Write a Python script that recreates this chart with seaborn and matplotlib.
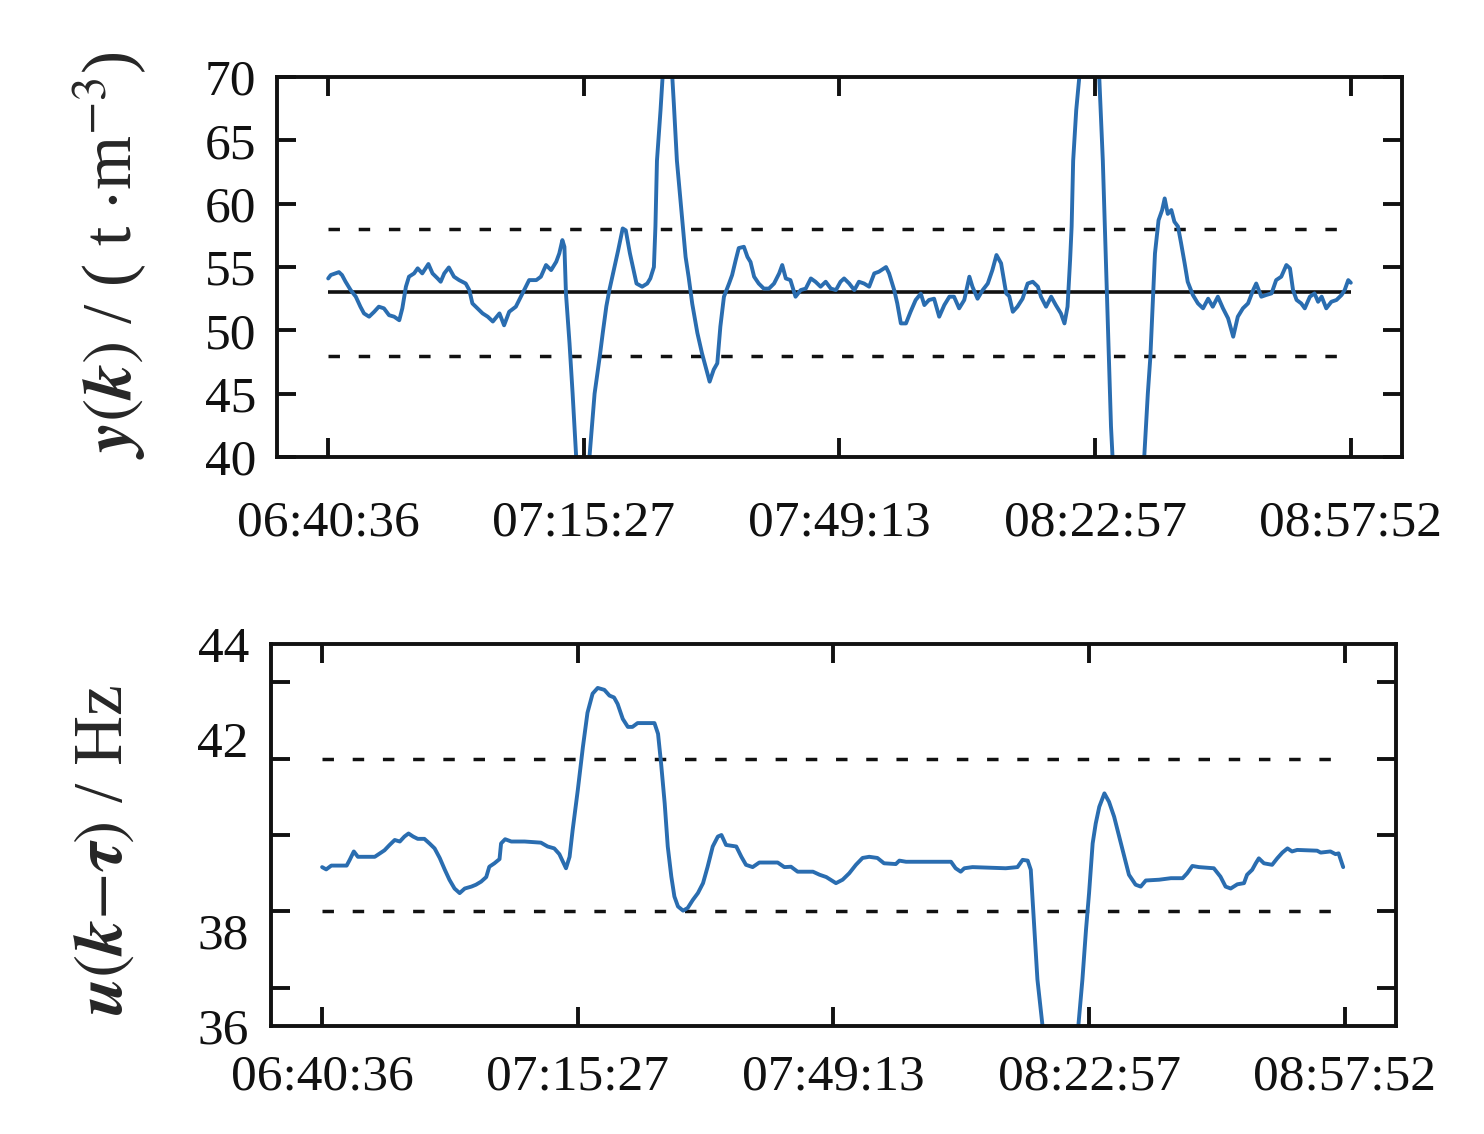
import matplotlib
matplotlib.use('Agg')
import matplotlib.pyplot as plt
import seaborn as sns

# x axis: sample index, labelled with clock times
tick_idx = [0, 500, 1000, 1500, 2000]
times = ['06:40:36', '07:15:27', '07:49:13', '08:22:57', '08:57:52']

# output y(k), t/m^3 (values outside 40-70 are clipped by the axes)
y_idx = [0, 5, 14, 21, 27, 34, 44, 54, 63, 70, 80, 90, 99, 109, 119, 129, 139, 145, 152, 158,
         168, 175, 184, 196, 204, 214, 220, 227, 236, 246, 256, 269, 276, 282, 292, 302, 312, 322, 335, 344,
         354, 367, 380, 393, 407, 416, 426, 436, 446, 452, 458, 462, 465, 472, 478, 485, 497, 511, 521, 531,
         537, 544, 550, 560, 567, 576, 582, 590, 596, 603, 614, 624, 630, 637, 640, 643, 650, 654, 663, 673,
         676, 682, 689, 699, 705, 712, 722, 731, 741, 746, 754, 761, 767, 774, 784, 790, 797, 803, 813, 820,
         826, 833, 842, 852, 862, 872, 882, 888, 895, 904, 914, 924, 934, 944, 953, 963, 973, 983, 993, 1002,
         1009, 1019, 1029, 1038, 1048, 1058, 1068, 1077, 1091, 1097, 1107, 1113, 1120, 1130, 1139, 1149, 1159, 1166, 1175, 1185,
         1195, 1205, 1215, 1224, 1234, 1244, 1254, 1260, 1270, 1280, 1290, 1299, 1307, 1316, 1326, 1332, 1339, 1348, 1358, 1368,
         1378, 1388, 1394, 1404, 1414, 1423, 1433, 1440, 1446, 1451, 1454, 1457, 1463, 1469, 1488, 1508, 1515, 1519, 1523, 1527,
         1531, 1534, 1565, 1596, 1603, 1608, 1613, 1617, 1624, 1631, 1636, 1642, 1649, 1655, 1662, 1668, 1675, 1681, 1691, 1701,
         1711, 1721, 1730, 1740, 1750, 1760, 1770, 1779, 1789, 1799, 1809, 1815, 1825, 1835, 1845, 1854, 1864, 1874, 1881, 1887,
         1894, 1903, 1910, 1920, 1929, 1936, 1943, 1952, 1962, 1972, 1982, 1988, 1995, 2000]
y_val = [54.1, 54.37, 54.5, 54.6, 54.37, 53.84, 53.18, 52.66, 51.87, 51.34, 51.08, 51.47, 51.87, 51.74, 51.2, 51.08, 50.8, 51.74, 53.45, 54.24,
         54.5, 54.9, 54.5, 55.24, 54.5, 54.1, 53.84, 54.5, 54.97, 54.24, 53.97, 53.7, 53.18, 52.13, 51.74, 51.34, 51.08, 50.7, 51.34, 50.4,
         51.47, 51.87, 52.92, 53.97, 53.97, 54.24, 55.16, 54.76, 55.42, 56.08, 57.13, 56.6, 52.92, 48.97, 45.03, 40.0, 33.5, 40.0, 45.0, 47.9,
         49.8, 51.9, 53.2, 55.0, 56.3, 58.05, 57.9, 56.1, 55.0, 53.7, 53.45, 53.7, 54.1, 55.0, 58.2, 63.4, 67.4, 70.0, 74.5, 70.0,
         67.9, 63.4, 60.3, 55.8, 54.2, 52.1, 49.8, 48.2, 46.7, 45.95, 46.9, 47.4, 50.3, 52.66, 53.7, 54.37, 55.55, 56.5, 56.6, 55.8,
         55.4, 54.24, 53.7, 53.3, 53.3, 53.7, 54.5, 55.16, 54.1, 53.97, 52.66, 53.18, 53.3, 54.1, 53.84, 53.45, 53.84, 53.3, 53.18, 53.84,
         54.1, 53.7, 53.18, 53.84, 53.7, 53.45, 54.5, 54.63, 55.0, 54.5, 53.18, 52.13, 50.55, 50.55, 51.47, 52.4, 52.9, 52.0, 52.4, 52.5,
         51.08, 52.0, 52.66, 52.66, 51.74, 52.4, 54.24, 53.45, 52.5, 53.18, 53.7, 54.76, 55.95, 55.3, 52.92, 52.7, 51.47, 51.87, 52.5, 53.7,
         53.84, 53.45, 52.66, 51.87, 52.66, 52.0, 51.34, 50.55, 51.87, 55.55, 58.2, 63.4, 67.4, 70.0, 80.0, 70.0, 63.4, 58.2, 52.92, 47.92,
         42.4, 40.0, 22.0, 40.0, 45.0, 47.92, 52.4, 56.08, 58.7, 59.5, 60.42, 59.2, 59.5, 58.58, 58.2, 56.9, 55.3, 53.84, 52.8, 52.13,
         51.74, 52.5, 51.87, 52.66, 51.74, 50.95, 49.5, 51.08, 51.74, 52.13, 53.18, 53.7, 52.66, 52.8, 52.92, 53.97, 54.24, 55.16, 54.9, 53.18,
         52.4, 52.13, 51.74, 52.66, 52.92, 52.26, 52.66, 51.74, 52.26, 52.4, 52.8, 53.18, 53.97, 53.76]
y_set = 53
y_band = [48, 58]

# input u(k - tau), Hz
u_idx = [0, 8, 18, 48, 54, 62, 70, 103, 113, 122, 132, 142, 152, 161, 169, 178, 187, 200, 210, 220,
         230, 240, 249, 259, 269, 279, 292, 301, 311, 321, 327, 337, 347, 350, 358, 370, 396, 428, 441, 454,
         464, 471, 477, 484, 490, 500, 510, 519, 529, 539, 552, 562, 571, 578, 588, 598, 607, 617, 650, 657,
         663, 670, 676, 683, 689, 696, 706, 715, 725, 735, 745, 754, 764, 774, 781, 790, 810, 820, 829, 842,
         855, 891, 904, 917, 930, 960, 973, 986, 1005, 1018, 1031, 1044, 1057, 1070, 1086, 1099, 1122, 1129, 1142, 1230,
         1239, 1249, 1256, 1272, 1337, 1360, 1370, 1380, 1386, 1393, 1399, 1409, 1444, 1479, 1487, 1494, 1500, 1507, 1513, 1520,
         1530, 1539, 1549, 1559, 1569, 1578, 1591, 1601, 1611, 1637, 1660, 1683, 1692, 1702, 1715, 1744, 1757, 1767, 1777, 1790,
         1803, 1809, 1819, 1826, 1832, 1842, 1858, 1868, 1878, 1888, 1897, 1907, 1946, 1953, 1972, 1982, 1988, 1997]
u_val = [39.16, 39.1, 39.2, 39.2, 39.35, 39.57, 39.43, 39.43, 39.52, 39.6, 39.74, 39.87, 39.83, 39.96, 40.04, 39.96, 39.9, 39.9, 39.78, 39.65,
         39.4, 39.09, 38.83, 38.6, 38.48, 38.6, 38.65, 38.7, 38.78, 38.9, 39.17, 39.26, 39.37, 39.78, 39.89, 39.83, 39.83, 39.8, 39.7, 39.65,
         39.5, 39.3, 39.13, 39.43, 40.13, 41.17, 42.3, 43.2, 43.7, 43.85, 43.8, 43.65, 43.6, 43.43, 43.04, 42.83, 42.83, 42.93, 42.93, 42.65,
         41.87, 40.83, 39.7, 38.91, 38.39, 38.13, 38.02, 38.09, 38.3, 38.48, 38.74, 39.17, 39.7, 39.96, 40.0, 39.74, 39.7, 39.43, 39.22, 39.16,
         39.28, 39.28, 39.16, 39.17, 39.04, 39.04, 38.96, 38.9, 38.74, 38.83, 39.0, 39.22, 39.4, 39.43, 39.4, 39.26, 39.24, 39.33, 39.3, 39.3,
         39.13, 39.04, 39.13, 39.16, 39.13, 39.16, 39.35, 39.33, 39.09, 37.52, 36.22, 35.0, 30.0, 35.0, 36.22, 37.52, 38.48, 39.78, 40.3, 40.74,
         41.09, 40.87, 40.48, 39.96, 39.43, 38.96, 38.7, 38.65, 38.81, 38.83, 38.87, 38.87, 39.0, 39.19, 39.16, 39.13, 38.91, 38.65, 38.6, 38.71,
         38.74, 38.96, 39.09, 39.26, 39.39, 39.26, 39.22, 39.39, 39.54, 39.65, 39.57, 39.61, 39.59, 39.54, 39.57, 39.5, 39.52, 39.16]
u_band = [38, 42]
u_ticks = [36, 38, 40, 42, 44]
u_label_pos = [35, 37.5, 40, 42.5, 45]
u_labels = ['36', '38', '40', '42', '44']

line_color = '#2a6db0'
ink = '#111111'

sns.set_theme(style='ticks')
plt.rcParams['font.family'] = ['Liberation Serif', 'DejaVu Serif']
plt.rcParams['mathtext.fontset'] = 'stix'

fig = plt.figure(figsize=(14.84, 11.34), dpi=100)
ax1 = fig.add_axes([0.1867, 0.597, 0.758, 0.335])
ax2 = fig.add_axes([0.1826, 0.0952, 0.758, 0.3369])


def style_axes(ax, xpad):
    for s in ax.spines.values():
        s.set_linewidth(2.8)
        s.set_color(ink)
    ax.tick_params(which='both', direction='in', length=14, width=2.8,
                   top=True, right=True, labelsize=37, colors=ink)
    ax.tick_params(axis='x', pad=xpad)
    ax.set_xlim(-100, 2100)
    ax.set_xticks(tick_idx, times)
    ax.set_xlabel('')


# top panel
ax1.hlines(y_set, 0, 2000, color=ink, lw=2.6)
ax1.hlines(y_band, 0, 2000, color=ink, lw=2.5, linestyles=(0, (3.3, 5.4)))
sns.lineplot(x=y_idx, y=y_val, ax=ax1, color=line_color, lw=2.8)
style_axes(ax1, 31)
ax1.set_ylim(40, 70)
ax1.set_yticks(range(40, 71, 5))
ax1.tick_params(axis='y', pad=15)
ax1.set_ylabel(r'$\mathbfit{y}(\mathbfit{k})$ / ( t $\cdot$m$^{-3}$)', fontsize=50)
ax1.yaxis.set_label_coords(-0.114, 0.532)

# bottom panel
ax2.hlines(u_band, 0, 2000, color=ink, lw=2.5, linestyles=(0, (3.3, 5.4)))
sns.lineplot(x=u_idx, y=u_val, ax=ax2, color=line_color, lw=2.8)
style_axes(ax2, 20)
ax2.set_ylim(35, 45)
ax2.set_yticks(u_ticks)
ax2.set_yticks(u_label_pos, u_labels, minor=True)
ax2.tick_params(axis='y', which='major', labelleft=False)
ax2.tick_params(axis='y', which='minor', length=0, labelleft=True, pad=16)
ax2.set_ylabel(r'$\mathbfit{u}(\mathbfit{k}{-}\mathbfit{\tau})$ / Hz', fontsize=50)
ax2.yaxis.set_label_coords(-0.119, 0.461)

fig.savefig('out.png', dpi=100)
